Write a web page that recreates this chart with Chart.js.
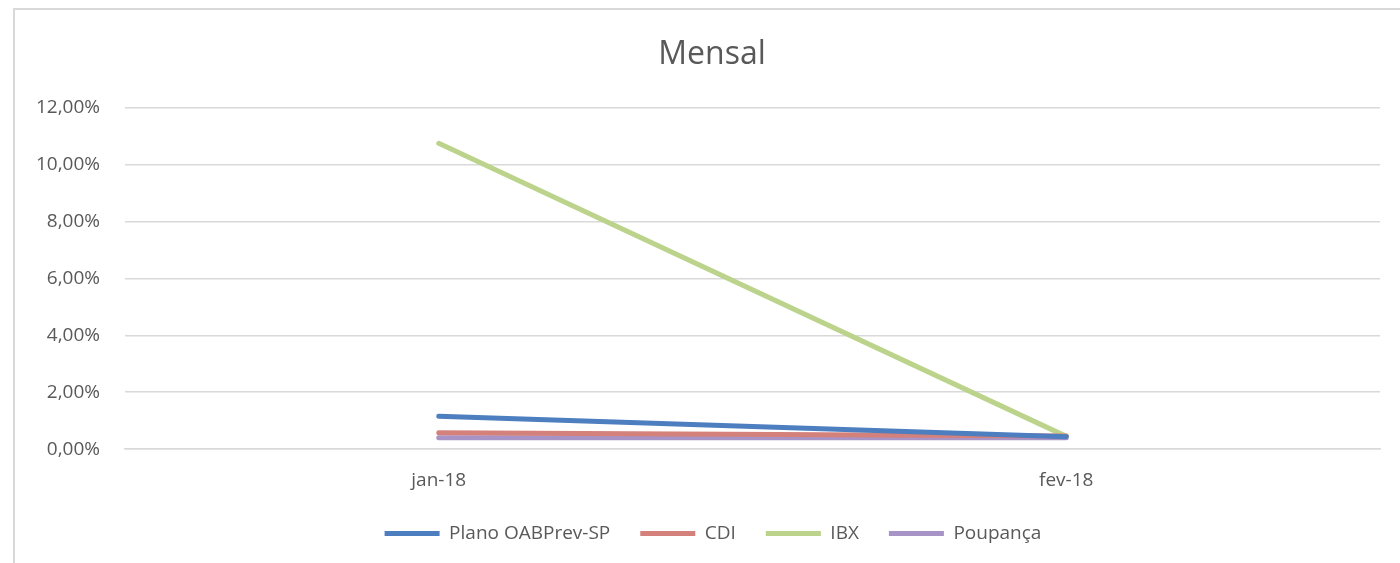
<!DOCTYPE html>
<html>
<head>
<meta charset="utf-8">
<script src="https://cdn.jsdelivr.net/npm/chart.js@4/dist/chart.umd.min.js"></script>
<style>
  html, body { margin: 0; padding: 0; background: #fff; }
  #wrap { position: relative; width: 1400px; height: 563px; overflow: hidden; }
  #frame { position: absolute; left: 13px; top: 8px; width: 1400px; height: 600px;
           border-left: 2px solid #d9d9d9; border-top: 2px solid #d9d9d9; }
  #c { position: absolute; left: 0; top: 0; }
</style>
</head>
<body>
<div id="wrap">
  <div id="frame"></div>
  <canvas id="c" width="1400" height="563"></canvas>
</div>
<script>
  // categorias e séries (valores em %)
  const months = ["jan-18", "fev-18"];
  const plano = [1.16, 0.44];
  const cdi = [0.58, 0.46];
  const ibx = [10.74, 0.45];
  const poupanca = [0.40, 0.40];
  const yTicks = [0, 2, 4, 6, 8, 10, 12];

  const FONT = "'Open Sans', sans-serif";
  const GREY = "#595959";

  function serie(label, data, color) {
    return {
      label: label,
      data: data,
      borderColor: color,
      backgroundColor: color,
      borderWidth: 5,
      borderCapStyle: "round",
      pointRadius: 0,
      tension: 0,
    };
  }

  // título e legenda ficam centrados no quadro do gráfico, não no canvas
  const shiftBlocks = {
    id: "shiftBlocks",
    afterLayout(chart) {
      const t = chart.titleBlock;
      t.left += 12;
      t.right += 12;
      const l = chart.legend;
      l.left += 13;
      l.right += 13;
      l.top -= 10;
      l.bottom -= 10;
    },
  };

  const ctx = document.getElementById("c").getContext("2d");
  new Chart(ctx, {
    type: "line",
    data: {
      labels: months,
      datasets: [
        serie("Plano OABPrev-SP", plano, "#4d7ebf"),
        serie("CDI", cdi, "#d4817b"),
        serie("IBX", ibx, "#bcd38c"),
        serie("Poupança", poupanca, "#a893c6"),
      ],
    },
    options: {
      responsive: false,
      animation: false,
      layout: { padding: { left: 20, right: 20, top: 0, bottom: 0 } },
      plugins: {
        title: {
          display: true,
          text: "Mensal",
          color: GREY,
          font: { family: FONT, size: 32, weight: "normal" },
          padding: { top: 36, bottom: 33 },
        },
        legend: {
          position: "bottom",
          maxHeight: 59,
          labels: {
            usePointStyle: true,
            pointStyle: "line",
            pointStyleWidth: 55,
            boxHeight: 5,
            padding: 30,
            color: GREY,
            font: { family: FONT, size: 19 },
          },
        },
        tooltip: { enabled: false },
      },
      scales: {
        x: {
          offset: true,
          grid: { display: false },
          border: { display: true, color: "#d9d9d9", width: 1.5 },
          ticks: { color: GREY, font: { family: FONT, size: 19 }, padding: 12 },
        },
        y: {
          min: yTicks[0],
          max: yTicks[yTicks.length - 1],
          afterBuildTicks: (axis) => {
            axis.ticks = yTicks.map((v) => ({ value: v }));
          },
          afterFit: (axis) => {
            axis.width = 105;
          },
          grid: { color: "#d9d9d9", lineWidth: 1.5, drawTicks: false },
          border: { display: false },
          ticks: {
            color: GREY,
            font: { family: FONT, size: 19 },
            padding: 25,
            callback: (v) => Number(v).toFixed(2).replace(".", ",") + "%",
          },
        },
      },
    },
    plugins: [shiftBlocks],
  });
</script>
</body>
</html>
